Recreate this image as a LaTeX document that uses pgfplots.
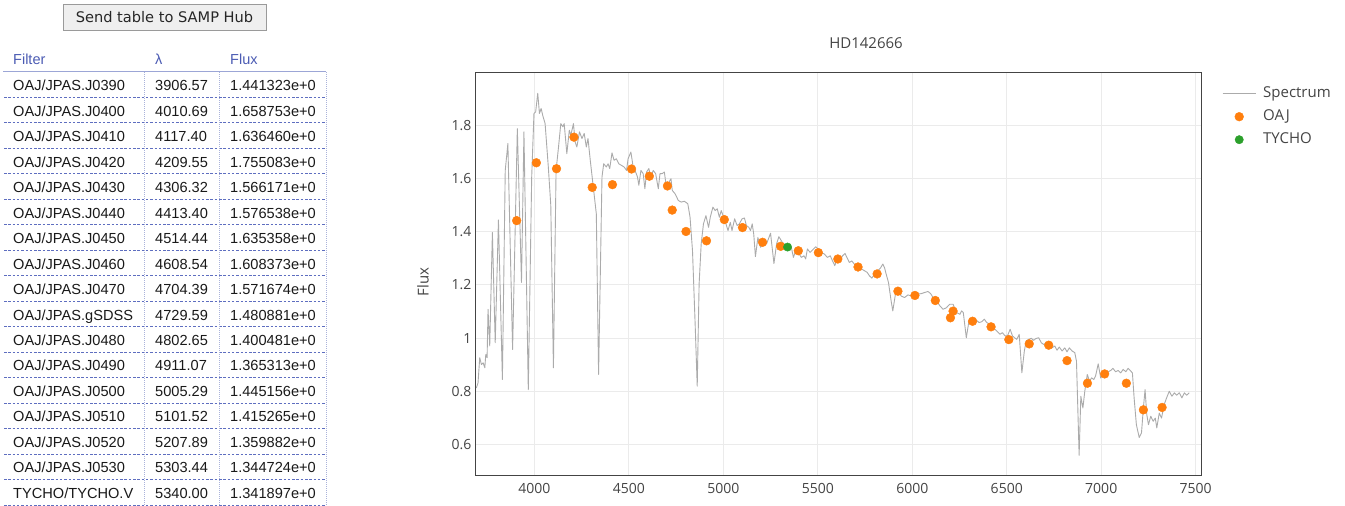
\documentclass[border=0pt]{standalone}
\usepackage{fontspec}
\setmainfont{Open Sans}
\newfontfamily\tabfont{Liberation Sans}
\newfontfamily\btnfont{DejaVu Sans}
\usepackage{pgfplots}
\usepackage{pgfplotstable}
\pgfplotsset{compat=1.18}

\definecolor{txt}{HTML}{444444}
\definecolor{gridc}{HTML}{EBEBEB}
\definecolor{spec}{HTML}{ABABAB}
\definecolor{oaj}{HTML}{FF7F0E}
\definecolor{tycho}{HTML}{2CA02C}
\definecolor{hdr}{HTML}{4B5BB3}
\definecolor{rowline}{HTML}{5E6EC0}
\definecolor{colline}{HTML}{A9B2DA}
\definecolor{hdrline}{HTML}{9CA6D6}
\definecolor{btnfill}{HTML}{EFEFEF}
\definecolor{btnborder}{HTML}{9A9A9A}

\pgfplotsset{
  leglineimg/.style={legend image code/.code={\draw[##1] (0pt,0pt) -- (33pt,0pt);}},
  legdotimg/.style={legend image code/.code={\draw[##1] plot coordinates {(16.5pt,0pt)};}},
}

% spectrum
\pgfplotstableread{
lam flux
3693 0.812
3702 0.831
3711 0.926
3720 0.900
3729 0.907
3738 0.888
3743 0.938
3750 0.926
3755 1.108
3764 0.970
3778 1.397
3793 0.982
3810 1.444
3831 0.844
3846 1.630
3860 1.731
3885 0.957
3910 1.787
3932 1.209
3945 1.775
3968 0.806
3986 1.605
3998 1.844
4007 1.850
4018 1.920
4027 1.844
4036 1.863
4044 1.838
4057 1.806
4074 1.643
4087 1.500
4101 0.888
4115 1.630
4128 1.718
4140 1.806
4151 1.794
4158 1.806
4172 1.693
4185 1.781
4193 1.762
4207 1.806
4216 1.737
4225 1.718
4239 1.775
4252 1.750
4264 1.769
4275 1.718
4284 1.750
4296 1.668
4314 1.555
4328 1.467
4340 0.863
4358 1.605
4367 1.655
4381 1.643
4390 1.655
4399 1.637
4411 1.696
4422 1.668
4434 1.674
4447 1.655
4461 1.649
4475 1.643
4488 1.630
4496 1.674
4511 1.699
4523 1.643
4536 1.624
4546 1.605
4553 1.574
4564 1.630
4576 1.618
4585 1.561
4594 1.624
4606 1.637
4617 1.605
4629 1.630
4642 1.618
4656 1.561
4665 1.618
4677 1.618
4688 1.624
4700 1.561
4713 1.586
4723 1.599
4730 1.555
4745 1.542
4762 1.517
4777 1.511
4794 1.514
4812 1.505
4824 1.454
4837 1.328
4851 1.052
4862 0.819
4872 1.203
4883 1.354
4895 1.429
4908 1.460
4922 1.416
4931 1.454
4945 1.492
4957 1.479
4968 1.486
4979 1.454
4989 1.479
5002 1.454
5014 1.429
5025 1.404
5037 1.435
5046 1.404
5060 1.448
5073 1.423
5085 1.429
5099 1.448
5112 1.451
5122 1.423
5135 1.416
5144 1.404
5153 1.429
5161 1.391
5170 1.306
5183 1.378
5197 1.341
5214 1.360
5229 1.354
5250 1.394
5268 1.280
5282 1.354
5294 1.381
5312 1.360
5330 1.347
5348 1.335
5360 1.341
5371 1.303
5383 1.328
5401 1.316
5413 1.303
5427 1.309
5436 1.297
5445 1.335
5459 1.322
5472 1.331
5489 1.343
5502 1.335
5516 1.322
5534 1.316
5551 1.303
5566 1.309
5578 1.290
5590 1.272
5605 1.303
5619 1.293
5631 1.309
5644 1.318
5654 1.303
5667 1.284
5680 1.290
5693 1.278
5707 1.265
5720 1.272
5733 1.259
5747 1.253
5761 1.247
5773 1.234
5786 1.225
5800 1.240
5817 1.253
5832 1.263
5844 1.278
5853 1.265
5862 1.240
5874 1.209
5888 1.140
5897 1.102
5911 1.165
5924 1.177
5941 1.158
5959 1.152
5977 1.162
5995 1.158
6012 1.163
6030 1.165
6048 1.167
6065 1.171
6083 1.175
6097 1.167
6110 1.152
6128 1.140
6146 1.121
6163 1.108
6181 1.114
6198 1.127
6216 1.127
6234 1.096
6252 1.089
6261 1.102
6270 1.096
6286 1.001
6300 1.064
6314 1.071
6328 1.058
6340 1.067
6353 1.058
6367 1.061
6381 1.071
6394 1.058
6411 1.052
6429 1.039
6447 1.026
6464 1.014
6477 1.020
6491 1.008
6504 1.008
6518 1.033
6530 1.008
6541 1.001
6553 0.995
6566 1.014
6580 0.869
6593 0.951
6603 0.989
6616 0.995
6630 0.999
6642 0.991
6654 0.998
6669 1.001
6683 0.982
6695 0.976
6713 0.982
6725 0.974
6739 0.963
6754 0.970
6766 0.954
6778 0.966
6793 0.951
6807 0.963
6819 0.948
6831 0.963
6846 0.951
6860 0.945
6869 0.913
6876 0.737
6883 0.559
6892 0.781
6903 0.737
6913 0.800
6926 0.863
6938 0.838
6949 0.850
6961 0.844
6970 0.857
6984 0.903
6997 0.850
7009 0.863
7023 0.875
7037 0.873
7050 0.878
7062 0.886
7076 0.873
7090 0.878
7103 0.869
7116 0.882
7130 0.873
7142 0.886
7153 0.878
7165 0.869
7174 0.775
7186 0.674
7201 0.626
7213 0.643
7223 0.737
7232 0.806
7241 0.712
7250 0.674
7262 0.706
7275 0.687
7286 0.699
7294 0.662
7307 0.718
7319 0.699
7333 0.750
7346 0.775
7360 0.800
7374 0.781
7387 0.794
7399 0.785
7413 0.794
7427 0.775
7440 0.794
7452 0.785
7466 0.794
}\spectrum

\pgfplotstableread{
lam flux
3906.57 1.441323
4010.69 1.658753
4117.40 1.636460
4209.55 1.755083
4306.32 1.566171
4413.40 1.576538
4514.44 1.635358
4608.54 1.608373
4704.39 1.571674
4729.59 1.480881
4802.65 1.400481
4911.07 1.365313
5005.29 1.445156
5101.52 1.415265
5207.89 1.359882
5303.44 1.344724
5397 1.328
5503 1.321
5606 1.297
5713 1.267
5814 1.241
5924 1.176
6014 1.160
6122 1.141
6202 1.076
6216 1.101
6319 1.063
6417 1.042
6511 0.994
6619 0.978
6722 0.973
6819 0.915
6927 0.830
7018 0.865
7133 0.830
7223 0.730
7322 0.739
}\oajdata

\pgfplotstableread{
lam flux
5340.00 1.341897
}\tychodata

\begin{document}
\begin{tikzpicture}
\useasboundingbox (0,0) rectangle (1345pt,-506pt);

% left panel: button and table
\begin{scope}[x=1pt,y=-1pt]
  \draw[fill=btnfill, draw=btnborder, line width=0.8pt] (63,4.5) rectangle (266,30);
  \node[font=\btnfont\fontsize{14.6}{17}\selectfont, text=black!85] at (164.5,17.5) {Send table to SAMP Hub};

  \foreach \xx/\hh in {13/Filter,155/λ,230/Flux}
    \node[anchor=base west, inner sep=0pt, font=\tabfont\fontsize{14.5}{17}\selectfont, text=hdr] at (\xx,64) {\hh};

  \foreach \k in {0,...,16}
    \draw[rowline, dash pattern=on 2.5pt off 1.8pt, line width=0.8pt] (4,{97.3+25.48*\k}) -- (326,{97.3+25.48*\k});
  \foreach \xx in {144,219,326}
    \draw[colline, dash pattern=on 1pt off 1pt, line width=1pt] (\xx,72) -- (\xx,505.5);
  \draw[hdrline, line width=1.6pt] (3,71.5) -- (326,71.5);

  \foreach \a/\f/\l/\v [count=\i from 0] in {
      OAJ/JPAS.J0390/3906.57/1.441323e+0,
      OAJ/JPAS.J0400/4010.69/1.658753e+0,
      OAJ/JPAS.J0410/4117.40/1.636460e+0,
      OAJ/JPAS.J0420/4209.55/1.755083e+0,
      OAJ/JPAS.J0430/4306.32/1.566171e+0,
      OAJ/JPAS.J0440/4413.40/1.576538e+0,
      OAJ/JPAS.J0450/4514.44/1.635358e+0,
      OAJ/JPAS.J0460/4608.54/1.608373e+0,
      OAJ/JPAS.J0470/4704.39/1.571674e+0,
      OAJ/JPAS.gSDSS/4729.59/1.480881e+0,
      OAJ/JPAS.J0480/4802.65/1.400481e+0,
      OAJ/JPAS.J0490/4911.07/1.365313e+0,
      OAJ/JPAS.J0500/5005.29/1.445156e+0,
      OAJ/JPAS.J0510/5101.52/1.415265e+0,
      OAJ/JPAS.J0520/5207.89/1.359882e+0,
      OAJ/JPAS.J0530/5303.44/1.344724e+0,
      TYCHO/TYCHO.V/5340.00/1.341897e+0} {
    \node[anchor=base west, inner sep=0pt, font=\tabfont\fontsize{14.6}{17}\selectfont, text=black!90] at (13,{90.7+25.48*\i}) {\a/\f};
    \node[anchor=base west, inner sep=0pt, font=\tabfont\fontsize{14.6}{17}\selectfont, text=black!90] at (155,{90.7+25.48*\i}) {\l};
    \node[anchor=base west, inner sep=0pt, font=\tabfont\fontsize{14.6}{17}\selectfont, text=black!90] at (230,{90.7+25.48*\i}) {\v};
  }
\end{scope}

\begin{axis}[
  at={(475pt,-475pt)}, anchor=south west,
  scale only axis, width=726pt, height=403pt,
  xmin=3686, xmax=7528, ymin=0.485, ymax=2.0,
  xtick={4000,4500,...,7500},
  ytick={0.6,0.8,1.0,1.2,1.4,1.6,1.8},
  grid=major,
  major grid style={gridc, line width=1pt},
  axis line style={txt, line width=0.9pt},
  tick style={draw=none},
  scaled x ticks=false,
  /pgf/number format/assume math mode=true,
  x tick label style={/pgf/number format/1000 sep={}, yshift=-4.5pt},
  ticklabel style={font=\fontsize{14}{16}\selectfont, text=txt},
  legend style={at={(1.029,0.969)}, anchor=north west, draw=none, fill=none,
    inner sep=0pt, row sep=5pt,
    font=\fontsize{15}{18}\selectfont, text=txt,
    nodes={text height=11pt, text depth=3pt, inner sep=2pt},
    /tikz/every odd column/.append style={column sep=5pt}},
  legend cell align=left,
]
  \addplot[spec, line width=0.9pt, line join=round, no marks, leglineimg]
    table[x=lam, y=flux] {\spectrum};
  \addlegendentry{Spectrum}
  \addplot[only marks, mark=*, mark size=4.4pt, mark options={draw=oaj, fill=oaj}, legdotimg]
    table[x=lam, y=flux] {\oajdata};
  \addlegendentry{OAJ}
  \addplot[only marks, mark=*, mark size=4.2pt, mark options={draw=tycho, fill=tycho}, legdotimg]
    table[x=lam, y=flux] {\tychodata};
  \addlegendentry{TYCHO}
\end{axis}

\node[font=\fontsize{15}{18}\selectfont, text=txt] at (866pt,-43pt) {HD142666};
\node[rotate=90, font=\fontsize{15}{18}\selectfont, text=txt] at (423pt,-282pt) {Flux};
\end{tikzpicture}
\end{document}
